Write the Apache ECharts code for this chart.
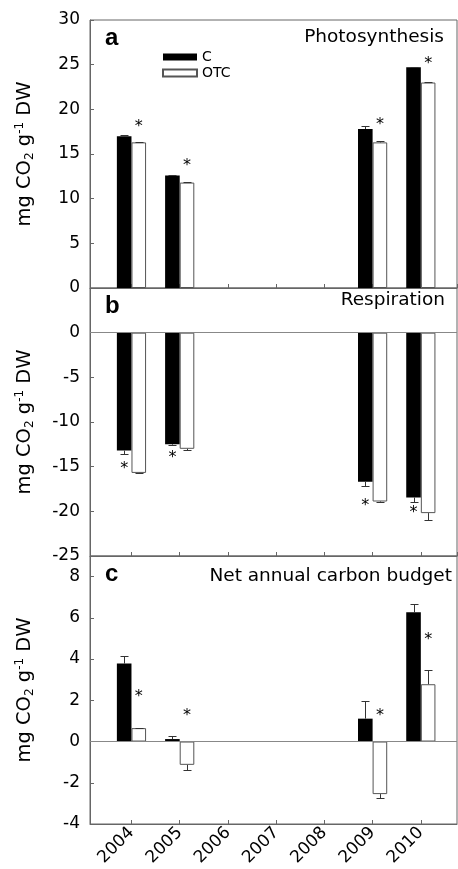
<!DOCTYPE html>
<html lang="en">
<head>
<meta charset="UTF-8">
<title>Photosynthesis, respiration and net annual carbon budget</title>
<script src="https://cdn.jsdelivr.net/npm/echarts@6/dist/echarts.min.js"></script>
<style>
    html, body { margin: 0; padding: 0; background: #fff; }
    #charts { width: 458px; height: 869px; }
</style>
</head>
<body>
<div id="charts"></div>
<script>
    // years with measurements
    var years = [2004, 2005, 2009, 2010];

    // a - Photosynthesis
    var photoC = [17.0, 12.6, 17.8, 24.7];
    var photoCErr = [0.1, 0.05, 0.3, 0.05];
    var photoOTC = [16.3, 11.8, 16.3, 23.0];
    var photoOTCErr = [0.05, 0.1, 0.1, 0.05];
    var photoStar = [18.4, 14.0, 18.6, 25.4];

    // b - Respiration
    var respC = [-13.2, -12.5, -16.7, -18.45];
    var respCErr = [0.35, 0.1, 0.45, 0.45];
    var respOTC = [-15.7, -13.0, -18.9, -20.2];
    var respOTCErr = [0.05, 0.1, 0.05, 0.75];
    var respStar = [-14.9, -13.7, -19.1, -19.8];

    // c - Net annual carbon budget
    var netC = [3.78, 0.12, 1.11, 6.27];
    var netCErr = [0.37, 0.14, 0.86, 0.42];
    var netOTC = [0.65, -1.13, -2.55, 2.78];
    var netOTCErr = [0.03, 0.26, 0.19, 0.7];
    var netStar = [2.3, 1.4, 1.4, 5.1];

    var titles = ['Photosynthesis', 'Respiration', 'Net annual carbon budget'];
    var letters = ['a', 'b', 'c'];

    var FONT = 'DejaVu Sans';
    var BAR_W = 14.6;
    var LINE = '#666';

    var panels = [
        {c: photoC, cErr: photoCErr, otc: photoOTC, otcErr: photoOTCErr, star: photoStar, starOn: 1,
         min: 0, max: 30, interval: 5, top: 20, zero: false, hideTop: false},
        {c: respC, cErr: respCErr, otc: respOTC, otcErr: respOTCErr, star: respStar, starOn: 0,
         min: -25, max: 5, interval: 5, top: 288, zero: true, hideTop: true},
        {c: netC, cErr: netCErr, otc: netOTC, otcErr: netOTCErr, star: netStar, starOn: 1,
         min: -4, max: 9, interval: 2, top: 556, zero: true, hideTop: true}
    ];

    function pairs(vals, extra) {
        return years.map(function (y, i) {
            return extra ? [y, vals[i], extra[i]] : [y, vals[i]];
        });
    }

    function errRender(shift) {
        return function (params, api) {
            var x = api.value(0), v = api.value(1), e = api.value(2);
            var end = v >= 0 ? v + e : v - e;
            var p0 = api.coord([x, v]);
            var p1 = api.coord([x, end]);
            var cx = Math.round(p0[0] + shift) + 0.5;
            var y1 = Math.round(p1[1]) + 0.5;
            return {
                type: 'group',
                children: [
                    {type: 'line', shape: {x1: cx, y1: p0[1], x2: cx, y2: y1}, style: {stroke: '#333', lineWidth: 1}},
                    {type: 'line', shape: {x1: cx - 4, y1: y1, x2: cx + 4, y2: y1}, style: {stroke: '#333', lineWidth: 1}}
                ]
            };
        };
    }

    function starRender(shift) {
        return function (params, api) {
            var p = api.coord([api.value(0), api.value(1)]);
            return {
                type: 'text',
                x: p[0] + shift,
                y: p[1] + 3,
                style: {text: '*', font: '16px "DejaVu Sans"', fill: '#000', align: 'center', verticalAlign: 'middle'}
            };
        };
    }

    var grid = [], xAxis = [], yAxis = [], series = [], graphic = [];

    panels.forEach(function (p, i) {
        grid.push({left: 90, right: 1, top: p.top, height: 268, show: true, borderColor: LINE, borderWidth: 1});

        xAxis.push({
            gridIndex: i,
            type: 'value',
            min: 2003.14,
            max: 2010.75,
            minInterval: 1,
            maxInterval: 1,
            axisLine: {show: true, onZero: false, lineStyle: {color: LINE}},
            axisTick: {show: true, inside: true, length: 4, lineStyle: {color: LINE}},
            splitLine: {show: false},
            axisLabel: {
                show: i === 2,
                rotate: 45,
                margin: 6,
                color: '#000',
                fontSize: 17,
                fontFamily: FONT,
                showMinLabel: false,
                showMaxLabel: false,
                formatter: function (v) { return Math.abs(v - Math.round(v)) < 1e-6 ? String(Math.round(v)) : ''; }
            }
        });

        yAxis.push({
            gridIndex: i,
            type: 'value',
            min: p.min,
            max: p.max,
            interval: p.interval,
            axisLine: {show: true, lineStyle: {color: LINE}},
            axisTick: {show: true, inside: true, length: 4, lineStyle: {color: LINE}},
            splitLine: {show: false},
            axisLabel: {
                color: '#000',
                fontSize: 17,
                fontFamily: FONT,
                margin: 10,
                formatter: function (v) { return (p.hideTop && v === p.max) ? '' : String(v); }
            },
            name: 'mg CO{sub|2} g{sup|-1} DW',
            nameLocation: 'middle',
            nameGap: 54,
            nameTextStyle: {
                color: '#000',
                fontSize: 19.5,
                fontFamily: FONT,
                lineHeight: 22,
                rich: {
                    sub: {fontSize: 12, fontFamily: FONT, color: '#000', lineHeight: 12, verticalAlign: 'bottom'},
                    sup: {fontSize: 12, fontFamily: FONT, color: '#000', lineHeight: 12, verticalAlign: 'top'}
                }
            }
        });

        series.push({
            name: 'C',
            type: 'bar',
            xAxisIndex: i,
            yAxisIndex: i,
            barWidth: BAR_W,
            barGap: '0%',
            itemStyle: {color: '#000', borderColor: '#000', borderWidth: 0},
            data: pairs(p.c),
            markLine: p.zero ? {
                silent: true,
                symbol: 'none',
                label: {show: false},
                lineStyle: {color: '#888', width: 1, type: 'solid'},
                data: [{yAxis: 0}]
            } : undefined,
            z: 2
        });
        series.push({
            name: 'OTC',
            type: 'bar',
            xAxisIndex: i,
            yAxisIndex: i,
            barWidth: BAR_W,
            barGap: '0%',
            itemStyle: {color: '#fff', borderColor: '#555', borderWidth: 1},
            data: pairs(p.otc),
            z: 2
        });
        series.push({
            type: 'custom',
            xAxisIndex: i,
            yAxisIndex: i,
            renderItem: errRender(-BAR_W / 2),
            data: pairs(p.c, p.cErr),
            z: 3
        });
        series.push({
            type: 'custom',
            xAxisIndex: i,
            yAxisIndex: i,
            renderItem: errRender(BAR_W / 2),
            data: pairs(p.otc, p.otcErr),
            z: 3
        });
        series.push({
            type: 'custom',
            xAxisIndex: i,
            yAxisIndex: i,
            renderItem: starRender(p.starOn ? BAR_W / 2 : -BAR_W / 2),
            data: pairs(p.star),
            z: 4
        });
    });

    // panel letters and titles
    var letterY = [38.5, 306, 574.5];
    var titleY = [37, 300.5, 576.5];
    var titleRight = [444, 445, 452];
    for (var k = 0; k < 3; k++) {
        graphic.push({
            type: 'text', x: 105, y: letterY[k],
            style: {text: letters[k], font: 'bold 24px "Liberation Sans"', fill: '#000', align: 'left', verticalAlign: 'middle'}
        });
        graphic.push({
            type: 'text', x: titleRight[k], y: titleY[k],
            style: {text: titles[k], font: '18.5px "DejaVu Sans"', fill: '#000', align: 'right', verticalAlign: 'middle'}
        });
    }

    var myChart = echarts.init(document.getElementById('charts'));
    myChart.setOption({
        animation: false,
        backgroundColor: '#fff',
        legend: {
            data: ['C', 'OTC'],
            orient: 'vertical',
            left: 157,
            top: 45,
            icon: 'rect',
            itemWidth: 34,
            itemHeight: 7,
            itemGap: 2,
            selectedMode: false,
            textStyle: {color: '#000', fontSize: 14, fontFamily: FONT}
        },
        grid: grid,
        xAxis: xAxis,
        yAxis: yAxis,
        series: series,
        graphic: graphic
    });
</script>
</body>
</html>
